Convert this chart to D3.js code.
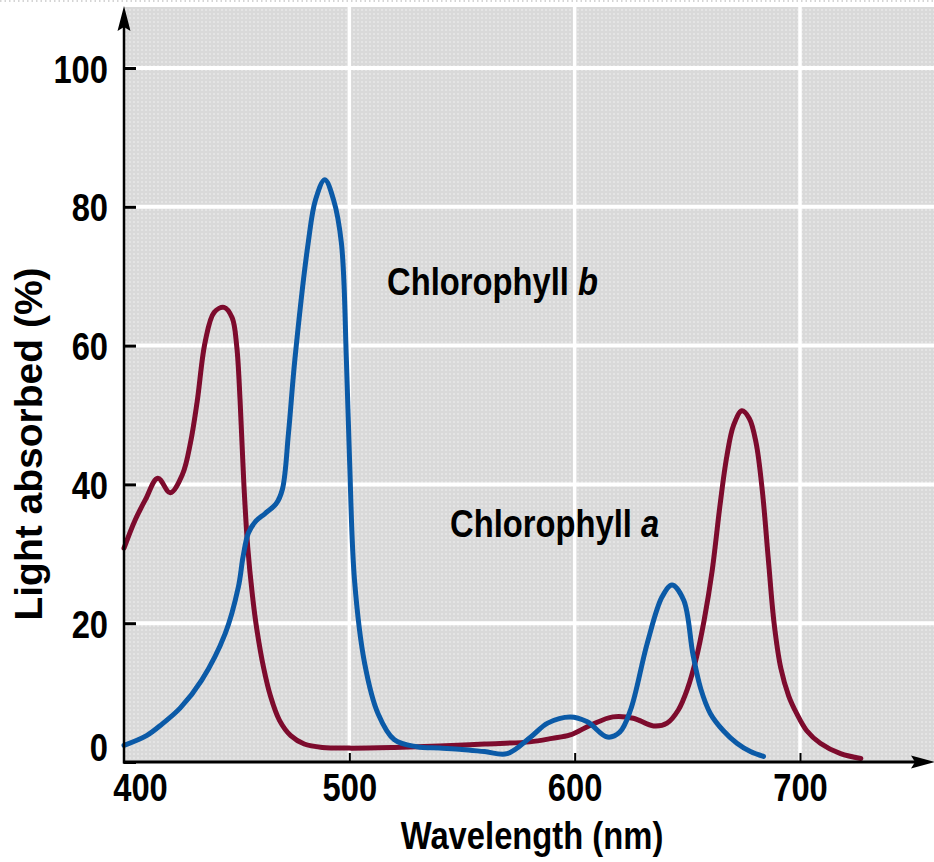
<!DOCTYPE html>
<html>
<head>
<meta charset="utf-8">
<script src="https://cdn.jsdelivr.net/npm/d3@7"></script>
<style>
  html, body { margin: 0; padding: 0; background: #fff; }
  svg { display: block; font-family: "Liberation Sans", Arial, sans-serif; font-weight: bold; }
</style>
</head>
<body>
<svg id="chart" width="934" height="862"></svg>
<script>
// Wavelengths (nm) and absorbance (%).
const wavelengthA = [400, 405, 409.5, 415, 420.5, 426, 429.5, 432.5, 436, 440, 444.4, 448, 450, 451.5, 453.2, 454.9, 457, 459, 462, 465, 469, 474, 480, 488, 500, 520, 540, 560, 580, 590, 598, 607, 617, 626, 635, 641, 646, 650, 654, 657.5, 661, 664.5, 667.5, 670.5, 674.2, 677.5, 680.5, 683.3, 686, 688.5, 691.5, 695, 698.5, 703, 709, 718, 727];
const absorbA = [30.8, 34.9, 37.8, 40.9, 38.8, 41.5, 46, 52, 60.5, 64.8, 65.5, 64, 60, 52.2, 40, 31, 24, 19, 13.5, 9.5, 6, 3.8, 2.6, 2.1, 2.0, 2.1, 2.3, 2.6, 2.9, 3.4, 3.9, 5.3, 6.5, 6.3, 5.2, 5.6, 7.5, 10.5, 15, 20.5, 27.5, 37, 44, 48.5, 50.6, 49.5, 46, 39, 29, 20, 13.5, 9.5, 7, 4.5, 2.7, 1.2, 0.5];

const wavelengthB = [400, 410, 417, 425, 434.5, 444.9, 450.8, 452.8, 455.2, 458.5, 462.6, 467.5, 470.3, 473, 475.8, 481.7, 485, 489.1, 493, 496.5, 498.7, 500.1, 502.3, 506.8, 512.7, 520, 530, 540, 550, 560, 570, 580.5, 588, 598, 605.6, 614.5, 620, 624.8, 632.2, 638.8, 643.2, 648.4, 652.5, 656, 660.2, 666, 672, 678, 683.8];
const absorbB = [2.4, 3.8, 5.5, 7.8, 11.8, 18.5, 25.3, 29.5, 33, 34.7, 35.8, 37.2, 39.3, 47.4, 57.9, 74.7, 81, 83.9, 81, 74.7, 57.9, 43.5, 26.2, 14.2, 7.0, 3.2, 2.2, 2.0, 1.8, 1.5, 1.2, 3.6, 5.6, 6.5, 5.8, 3.6, 4.3, 7.5, 17.1, 23.8, 25.5, 23.3, 15.5, 10.5, 7.0, 4.5, 2.7, 1.5, 0.8];

const xTicks = [400, 500, 600, 700];
const yTicks = [0, 20, 40, 60, 80, 100];
const xGrid = [500, 600, 700];
const yGrid = [20, 40, 60, 80, 100];

const W = 934, H = 862;
const x = d3.scaleLinear().domain([400, 700]).range([124, 800]);
const y = d3.scaleLinear().domain([0, 100]).range([762, 68]);
const squeeze = 0.84;

const svg = d3.select("#chart");

// Dotted grey background pattern.
const defs = svg.append("defs");
const pat = defs.append("pattern")
  .attr("id", "dots")
  .attr("width", 4).attr("height", 4)
  .attr("patternUnits", "userSpaceOnUse");
pat.append("rect").attr("width", 4).attr("height", 4).attr("fill", "#d9d9d9");
pat.append("circle").attr("cx", 2).attr("cy", 2).attr("r", 0.8).attr("fill", "#f2f2f2");

// Faint dotted line along the top edge.
svg.append("line")
  .attr("x1", 0).attr("x2", W).attr("y1", 1).attr("y2", 1)
  .attr("stroke", "#c8c8c8").attr("stroke-width", 1.5)
  .attr("stroke-dasharray", "1.5,3");

// Plot area.
svg.append("rect")
  .attr("x", 124).attr("y", 7)
  .attr("width", W - 124).attr("height", y(0) - 7)
  .attr("fill", "url(#dots)");

// White grid lines.
svg.append("g").selectAll("line")
  .data(yGrid).enter().append("line")
  .attr("x1", 124).attr("x2", W)
  .attr("y1", d => y(d)).attr("y2", d => y(d))
  .attr("stroke", "#fff").attr("stroke-width", 4);

svg.append("g").selectAll("line")
  .data(xGrid).enter().append("line")
  .attr("x1", d => x(d)).attr("x2", d => x(d))
  .attr("y1", 7).attr("y2", y(0))
  .attr("stroke", "#fff").attr("stroke-width", 3.5);

// Curves.
const line = d3.line()
  .x(d => x(d[0]))
  .y(d => y(d[1]))
  .curve(d3.curveCatmullRom.alpha(0.5));

svg.append("path")
  .datum(d3.zip(wavelengthA, absorbA))
  .attr("d", line)
  .attr("fill", "none")
  .attr("stroke", "#7d0b2d")
  .attr("stroke-width", 5)
  .attr("stroke-linejoin", "round")
  .attr("stroke-linecap", "round");

svg.append("path")
  .datum(d3.zip(wavelengthB, absorbB))
  .attr("d", line)
  .attr("fill", "none")
  .attr("stroke", "#0b5aa7")
  .attr("stroke-width", 5)
  .attr("stroke-linejoin", "round")
  .attr("stroke-linecap", "round");

// Y axis with inner ticks.
const yAxis = svg.append("g")
  .attr("transform", "translate(124,0)")
  .call(d3.axisLeft(y)
    .tickValues(yTicks)
    .tickSizeInner(-12)
    .tickSizeOuter(0)
    .tickPadding(19));
yAxis.select(".domain").remove();
yAxis.selectAll(".tick line").attr("stroke", "#000").attr("stroke-width", 3);
yAxis.selectAll(".tick text")
  .attr("font-size", 39)
  .attr("font-family", "Liberation Sans, Arial, sans-serif")
  .attr("font-weight", "bold")
  .attr("fill", "#000")
  .attr("transform", `scale(${squeeze},1)`)
  .attr("dy", d => d === 0 ? "-0.05em" : "0.36em");

// X axis with inner ticks.
const xAxis = svg.append("g")
  .attr("transform", `translate(0,${y(0)})`)
  .call(d3.axisBottom(x)
    .tickValues(xTicks)
    .tickSizeInner(-9)
    .tickSizeOuter(0)
    .tickPadding(11));
xAxis.select(".domain").remove();
xAxis.selectAll(".tick line")
  .attr("stroke", "#000").attr("stroke-width", 2)
  .attr("opacity", d => d === 400 ? 0 : 1);
xAxis.selectAll(".tick text")
  .attr("font-size", 39)
  .attr("font-family", "Liberation Sans, Arial, sans-serif")
  .attr("font-weight", "bold")
  .attr("fill", "#000")
  .attr("transform", d => `translate(${d === 400 ? 16 : 0},0) scale(${squeeze},1)`);

// Axis lines with arrow heads.
svg.append("line")
  .attr("x1", 124).attr("x2", 124).attr("y1", 26).attr("y2", y(0) + 1.5)
  .attr("stroke", "#000").attr("stroke-width", 2.5);
svg.append("path")
  .attr("d", "M124,6 L117.5,31 L124,27 L130.5,31 Z")
  .attr("fill", "#000");

svg.append("line")
  .attr("x1", 123).attr("x2", 920).attr("y1", y(0)).attr("y2", y(0))
  .attr("stroke", "#000").attr("stroke-width", 3);
svg.append("path")
  .attr("d", `M935,${y(0)} L911,${y(0) - 6.5} L915,${y(0)} L911,${y(0) + 6.5} Z`)
  .attr("fill", "#000");

// Series labels.
function label(px, py, main, ital) {
  const t = svg.append("g")
    .attr("transform", `translate(${px},${py}) scale(${squeeze},1)`)
    .append("text")
    .attr("font-size", 39)
    .attr("fill", "#000");
  t.append("tspan").text(main);
  t.append("tspan").attr("font-style", "italic").text(ital);
}
label(387, 295, "Chlorophyll ", "b");
label(450, 537, "Chlorophyll ", "a");

// Axis titles.
svg.append("g")
  .attr("transform", `translate(532,849) scale(${squeeze},1)`)
  .append("text")
  .attr("text-anchor", "middle")
  .attr("font-size", 39)
  .attr("fill", "#000")
  .text("Wavelength (nm)");

svg.append("text")
  .attr("transform", "translate(42,444) rotate(-90)")
  .attr("text-anchor", "middle")
  .attr("font-size", 39)
  .attr("fill", "#000")
  .text("Light absorbed (%)");
</script>
</body>
</html>
